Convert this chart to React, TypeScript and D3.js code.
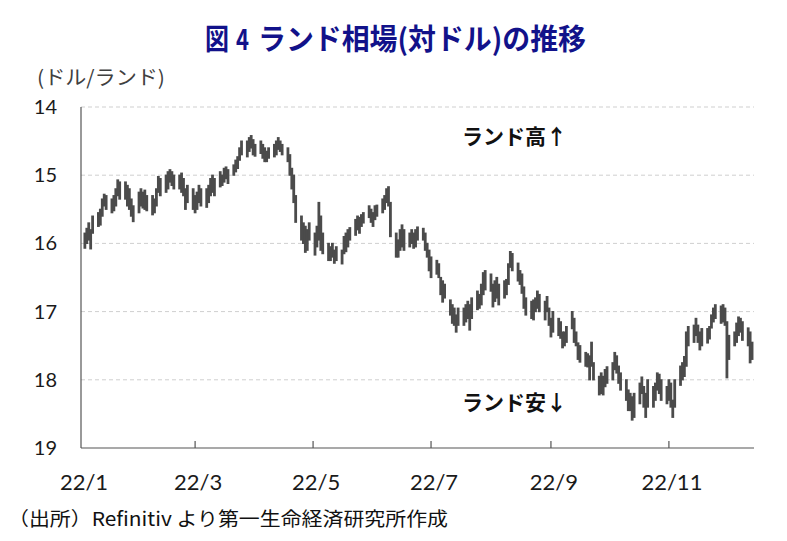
import { useEffect, useRef } from 'react'
import * as d3 from 'd3'

// USD/ZAR daily range [low, high], one entry per weekday from 2022-01-03
const dailyRange: [number, number][] = [
  // Jan 3
  [15.85, 16.07], [15.78, 16.0], [15.7, 15.95], [15.8, 16.08], [15.6, 15.85],
  [15.55, 15.75], [15.5, 15.73], [15.35, 15.6], [15.28, 15.45], [15.3, 15.5],
  [15.35, 15.55], [15.3, 15.52], [15.2, 15.45], [15.07, 15.3], [15.1, 15.35],
  [15.1, 15.35], [15.15, 15.45], [15.2, 15.5], [15.35, 15.6], [15.45, 15.68],
  // Jan 31
  [15.25, 15.55], [15.2, 15.45], [15.25, 15.48], [15.22, 15.5], [15.3, 15.52],
  [15.3, 15.58], [15.35, 15.55], [15.2, 15.45], [15.02, 15.25], [15.05, 15.3],
  [15.0, 15.25], [14.95, 15.2], [14.92, 15.1], [14.95, 15.15], [15.0, 15.2],
  [15.0, 15.2], [14.97, 15.25], [15.05, 15.3], [15.2, 15.5], [15.15, 15.4],
  // Feb 28
  [15.2, 15.5], [15.3, 15.55], [15.25, 15.5], [15.15, 15.4], [15.2, 15.45],
  [15.2, 15.47], [15.15, 15.4], [15.05, 15.3], [15.0, 15.25], [15.05, 15.3],
  [14.95, 15.17], [15.0, 15.15], [14.9, 15.1], [14.88, 15.05], [14.92, 15.12],
  [14.85, 15.0], [14.78, 14.95], [14.73, 14.9], [14.6, 14.78], [14.5, 14.7],
  // Mar 28
  [14.5, 14.73], [14.45, 14.65], [14.42, 14.6], [14.48, 14.7], [14.55, 14.72],
  [14.5, 14.68], [14.55, 14.75], [14.6, 14.8], [14.65, 14.8], [14.6, 14.75],
  [14.55, 14.73], [14.5, 14.7], [14.45, 14.62], [14.5, 14.65], [14.55, 14.7],
  [14.6, 14.8], [14.7, 15.0], [14.9, 15.2], [15.0, 15.4], [15.3, 15.69],
  // Apr 25
  [15.6, 15.95], [15.7, 16.0], [15.75, 16.13], [15.8, 16.1], [15.7, 15.95],
  [15.85, 16.17], [15.75, 16.05], [15.4, 15.95], [15.6, 16.1], [15.85, 16.15],
  [16.0, 16.25], [16.05, 16.25], [16.0, 16.2], [16.1, 16.29], [16.05, 16.25],
  [16.1, 16.3], [15.9, 16.15], [15.85, 16.12], [15.8, 16.05], [15.77, 15.95],
  [15.65, 15.88], [15.6, 15.8], [15.62, 15.85], [15.58, 15.75], [15.55, 15.7],
  // May 30
  [15.45, 15.62], [15.5, 15.69], [15.55, 15.75], [15.45, 15.65], [15.44, 15.6],
  [15.35, 15.55], [15.3, 15.5], [15.2, 15.4], [15.17, 15.45], [15.4, 15.9],
  [15.85, 16.2], [15.95, 16.2], [15.8, 16.1], [15.73, 16.05], [15.8, 16.1],
  [15.85, 16.05], [15.8, 16.0], [15.85, 16.07], [15.8, 16.05], [15.76, 15.95],
  // Jun 27
  [15.78, 15.95], [15.85, 16.1], [16.0, 16.2], [16.1, 16.4], [16.2, 16.5],
  [16.25, 16.45], [16.3, 16.5], [16.5, 16.75], [16.55, 16.86], [16.6, 16.8],
  [16.83, 17.05], [16.9, 17.17], [16.95, 17.2], [17.05, 17.3], [16.95, 17.2],
  [16.95, 17.2], [16.9, 17.15], [16.85, 17.1], [16.9, 17.27], [16.8, 17.1],
  // Jul 25
  [16.7, 16.97], [16.75, 16.95], [16.6, 16.9], [16.43, 16.75], [16.4, 16.68],
  [16.45, 16.7], [16.6, 16.93], [16.55, 16.85], [16.5, 16.8], [16.6, 16.9],
  [16.55, 16.8], [16.53, 16.75], [16.3, 16.6], [16.12, 16.35], [16.15, 16.4],
  [16.29, 16.55], [16.4, 16.6], [16.45, 16.73], [16.64, 16.95], [16.8, 17.05],
  [16.85, 17.1], [16.83, 17.12], [16.8, 17.0], [16.7, 16.95], [16.75, 17.0],
  // Aug 29
  [16.85, 17.12], [16.78, 17.0], [16.95, 17.2], [17.1, 17.37], [17.0, 17.3],
  [17.1, 17.35], [17.15, 17.39], [17.3, 17.53], [17.3, 17.5], [17.22, 17.45],
  [17.0, 17.25], [17.1, 17.45], [17.3, 17.5], [17.46, 17.7], [17.5, 17.74],
  [17.6, 17.8], [17.62, 17.81], [17.65, 18.0], [17.45, 17.8], [17.75, 18.0],
  // Sep 26
  [17.95, 18.22], [17.9, 18.2], [17.95, 18.22], [17.85, 18.1], [17.81, 18.05],
  [17.75, 18.0], [17.6, 17.85], [17.65, 17.9], [17.8, 18.05], [17.9, 18.15],
  [18.0, 18.3], [18.15, 18.45], [18.2, 18.45], [18.25, 18.59], [18.2, 18.55],
  [18.05, 18.35], [17.96, 18.2], [18.1, 18.4], [18.2, 18.55], [18.0, 18.4],
  [18.1, 18.4], [18.05, 18.3], [17.9, 18.15], [17.92, 18.2], [18.0, 18.3],
  // Oct 31
  [18.1, 18.35], [18.0, 18.3], [18.05, 18.4], [18.3, 18.55], [18.0, 18.4],
  [17.8, 18.08], [17.75, 18.0], [17.66, 17.95], [17.3, 17.8], [17.22, 17.5],
  [17.2, 17.45], [17.1, 17.35], [17.2, 17.45], [17.3, 17.56], [17.25, 17.5],
  [17.25, 17.46], [17.22, 17.4], [17.05, 17.24], [16.95, 17.15], [16.9, 17.1],
  // Nov 28
  [16.92, 17.17], [16.9, 17.15], [16.95, 17.2], [17.15, 17.97], [17.35, 17.7],
  [17.3, 17.5], [17.17, 17.45], [17.08, 17.35], [17.1, 17.3], [17.15, 17.42],
  [17.24, 17.5], [17.3, 17.75], [17.45, 17.7],
]

const yTicks = [14, 15, 16, 17, 18, 19]
const xTickMonths = [0, 2, 4, 6, 8, 10]
const xTickLabels = ['22/1', '22/3', '22/5', '22/7', '22/9', '22/11']

const W = 787
const H = 541
const NUM_FONT = "Lato, 'Open Sans', sans-serif"
const JP_FONT = "'Noto Sans CJK JP', 'Noto Sans', sans-serif"

export default function App() {
  const svgRef = useRef<SVGSVGElement | null>(null)

  useEffect(() => {
    if (!svgRef.current) return
    const svg = d3.select(svgRef.current)
    svg.selectAll('*').remove()

    const left = 81
    const right = 754
    const top = 107
    const bottom = 448

    const x = d3
      .scaleTime()
      .domain([new Date(2022, 0, 1), new Date(2022, 11, 15)])
      .range([left, right])
    const y = d3.scaleLinear().domain([14, 19]).range([top, bottom])

    // weekday calendar for the rows above
    const days: Date[] = []
    const d = new Date(2022, 0, 3)
    while (days.length < dailyRange.length) {
      if (d.getDay() % 6 !== 0) days.push(new Date(d))
      d.setDate(d.getDate() + 1)
    }

    svg.append('rect').attr('width', W).attr('height', H).attr('fill', '#fff')

    // dashed grid
    svg
      .append('g')
      .selectAll('line')
      .data(yTicks.slice(0, -1))
      .join('line')
      .attr('x1', left)
      .attr('x2', right)
      .attr('y1', v => y(v))
      .attr('y2', v => y(v))
      .attr('stroke', '#cfcfcf')
      .attr('stroke-dasharray', '4 3')

    // high-low bars
    svg
      .append('g')
      .selectAll('line')
      .data(dailyRange)
      .join('line')
      .attr('x1', (_, i) => x(days[i]))
      .attr('x2', (_, i) => x(days[i]))
      .attr('y1', r => y(r[0]) - 0.6)
      .attr('y2', r => y(r[1]) + 0.6)
      .attr('stroke', '#4b4b4b')
      .attr('stroke-width', 2.8)

    // axes
    svg
      .append('line')
      .attr('x1', left)
      .attr('x2', left)
      .attr('y1', top)
      .attr('y2', bottom)
      .attr('stroke', '#555')
      .attr('stroke-width', 1.2)
    svg
      .append('line')
      .attr('x1', left)
      .attr('x2', right)
      .attr('y1', bottom)
      .attr('y2', bottom)
      .attr('stroke', '#555')
      .attr('stroke-width', 1.2)

    const tickDates = xTickMonths.map(m => new Date(2022, m, 1))
    svg
      .append('g')
      .selectAll('line')
      .data(tickDates.slice(1))
      .join('line')
      .attr('x1', t => x(t))
      .attr('x2', t => x(t))
      .attr('y1', bottom)
      .attr('y2', bottom - 7)
      .attr('stroke', '#555')
      .attr('stroke-width', 1.2)

    svg
      .append('g')
      .selectAll('text')
      .data(tickDates)
      .join('text')
      .attr('x', t => x(t) + 3)
      .attr('y', 490)
      .attr('text-anchor', 'middle')
      .attr('font-family', NUM_FONT)
      .attr('font-size', 22)
      .attr('fill', '#1a1a1a')
      .text((_, i) => xTickLabels[i])

    svg
      .append('g')
      .selectAll('text')
      .data(yTicks)
      .join('text')
      .attr('x', 57)
      .attr('y', v => y(v) + 7)
      .attr('text-anchor', 'end')
      .attr('font-family', NUM_FONT)
      .attr('font-size', 20)
      .attr('fill', '#1a1a1a')
      .text(v => v)

    // titles and notes
    const title = (txt: string, tx: number, len: number) => {
      svg
        .append('text')
        .attr('x', tx)
        .attr('y', 50)
        .attr('font-family', JP_FONT)
        .attr('font-weight', 700)
        .attr('font-size', 29)
        .attr('fill', '#12128a')
        .attr('textLength', len)
        .attr('lengthAdjust', 'spacingAndGlyphs')
        .text(txt)
    }
    title('図', 205, 24)
    title('4', 236, 13)
    title('ランド相場(対ドル)の推移', 258, 328)

    svg
      .append('text')
      .attr('x', 37)
      .attr('y', 85)
      .attr('font-family', JP_FONT)
      .attr('font-size', 20)
      .attr('fill', '#404040')
      .attr('textLength', 128)
      .attr('lengthAdjust', 'spacingAndGlyphs')
      .text('(ドル/ランド)')

    svg
      .append('text')
      .attr('x', 462)
      .attr('y', 144)
      .attr('font-family', JP_FONT)
      .attr('font-weight', 700)
      .attr('font-size', 21)
      .attr('fill', '#111')
      .text('ランド高↑')
    svg
      .append('text')
      .attr('x', 462)
      .attr('y', 410)
      .attr('font-family', JP_FONT)
      .attr('font-weight', 700)
      .attr('font-size', 21)
      .attr('fill', '#111')
      .text('ランド安↓')

    svg
      .append('text')
      .attr('x', 8)
      .attr('y', 526)
      .attr('font-family', JP_FONT)
      .attr('font-size', 19)
      .attr('fill', '#111')
      .attr('textLength', 440)
      .attr('lengthAdjust', 'spacingAndGlyphs')
      .text('（出所）Refinitiv より第一生命経済研究所作成')
  }, [])

  return (
    <svg
      ref={svgRef}
      width={W}
      height={H}
      style={{ position: 'absolute', left: 0, top: 0 }}
    />
  )
}
